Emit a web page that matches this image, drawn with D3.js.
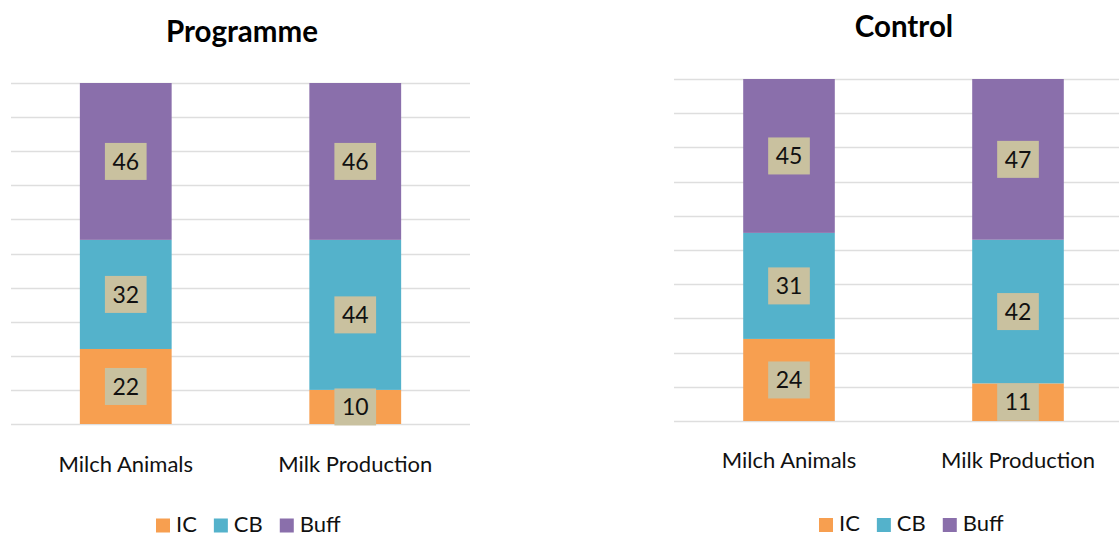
<!DOCTYPE html>
<html>
<head>
<meta charset="utf-8">
<script src="https://cdn.jsdelivr.net/npm/d3@7"></script>
<style>
  body { margin: 0; background: #ffffff; }
  svg { display: block; }
</style>
</head>
<body>
<svg id="chart" width="1119" height="536"></svg>
<script>
// ---- data ----
const categories = ["Milch Animals", "Milk Production"];
const seriesNames = ["IC", "CB", "Buff"];
const panelTitles = ["Programme", "Control"];

const programmeIC = [22, 10];
const programmeCB = [32, 44];
const programmeBuff = [46, 46];

const controlIC = [24, 11];
const controlCB = [31, 42];
const controlBuff = [45, 47];

const gridTicks = [0, 10, 20, 30, 40, 50, 60, 70, 80, 90, 100];

// ---- styling ----
const seriesColors = ["#F79F50", "#54B2CB", "#8A6FAB"];
const labelFill = "#C9C19F";
const gridColor = "#DEDEDE";
const textColor = "#111111";
const fontFamily = "Lato, 'Open Sans', sans-serif";

// ---- panel layouts ----
const panels = [
  {
    title: panelTitles[0],
    series: [programmeIC, programmeCB, programmeBuff],
    xRange: [11, 470], gridRange: [11, 470],
    yRange: [424, 83],
    titleX: 242, titleY: 41.5,
    catY: 471.5,
    legendX: 156, legendY: 517.5
  },
  {
    title: panelTitles[1],
    series: [controlIC, controlCB, controlBuff],
    xRange: [674.5, 1132.5], gridRange: [674, 1140],
    yRange: [421, 79],
    titleX: 904, titleY: 36.5,
    catY: 467.5,
    legendX: 819, legendY: 517
  }
];

const svg = d3.select("#chart");

panels.forEach(p => {
  const g = svg.append("g");

  const rows = categories.map((c, i) => {
    const r = { category: c };
    seriesNames.forEach((s, k) => { r[s] = p.series[k][i]; });
    return r;
  });
  const stacked = d3.stack().keys(seriesNames)(rows);

  const x = d3.scaleBand()
    .domain(categories)
    .range(p.xRange)
    .paddingInner(0.6)
    .paddingOuter(0.3);
  const y = d3.scaleLinear().domain([0, 100]).range(p.yRange);

  // horizontal gridlines
  g.append("g").selectAll("line")
    .data(gridTicks)
    .join("line")
    .attr("x1", p.gridRange[0]).attr("x2", p.gridRange[1])
    .attr("y1", d => Math.round(y(d)) + 0.5)
    .attr("y2", d => Math.round(y(d)) + 0.5)
    .attr("stroke", gridColor)
    .attr("stroke-width", 1.3);

  // stacked bars
  const layers = g.append("g").selectAll("g")
    .data(stacked)
    .join("g")
    .attr("fill", (d, i) => seriesColors[i]);

  layers.selectAll("rect")
    .data(d => d)
    .join("rect")
    .attr("x", d => x(d.data.category))
    .attr("width", x.bandwidth())
    .attr("y", d => y(d[1]))
    .attr("height", d => y(d[0]) - y(d[1]));

  // value labels on tan boxes
  const labelLayer = g.append("g");
  stacked.forEach(layer => {
    layer.forEach(d => {
      const cx = x(d.data.category) + x.bandwidth() / 2;
      const cy = (y(d[0]) + y(d[1])) / 2;
      const val = d[1] - d[0];
      const lg = labelLayer.append("g");
      const rect = lg.append("rect").attr("fill", labelFill);
      const t = lg.append("text")
        .attr("x", cx).attr("y", cy)
        .attr("dy", "0.36em")
        .attr("text-anchor", "middle")
        .attr("font-family", fontFamily)
        .attr("font-size", 23)
        .attr("fill", textColor)
        .text(val);
      const w = t.node().getComputedTextLength() + 15;
      const h = 37;
      rect.attr("x", cx - w / 2).attr("y", cy - h / 2)
        .attr("width", w).attr("height", h);
    });
  });

  // category labels
  g.append("g").selectAll("text")
    .data(categories)
    .join("text")
    .attr("x", d => x(d) + x.bandwidth() / 2)
    .attr("y", p.catY)
    .attr("text-anchor", "middle")
    .attr("font-family", fontFamily)
    .attr("font-size", 22)
    .attr("fill", textColor)
    .text(d => d);

  // title
  g.append("text")
    .attr("x", p.titleX).attr("y", p.titleY)
    .attr("text-anchor", "middle")
    .attr("font-family", fontFamily)
    .attr("font-weight", "bold")
    .attr("font-size", 29.5)
    .attr("fill", "#000")
    .text(p.title);

  // legend
  const legend = g.append("g");
  let lx = p.legendX;
  seriesNames.forEach((s, i) => {
    legend.append("rect")
      .attr("x", lx).attr("y", p.legendY + 1)
      .attr("width", 14).attr("height", 14)
      .attr("fill", seriesColors[i]);
    const t = legend.append("text")
      .attr("x", lx + 20).attr("y", p.legendY + 14)
      .attr("font-family", fontFamily)
      .attr("font-size", 22)
      .attr("fill", textColor)
      .text(s);
    lx += 20 + t.node().getComputedTextLength() + 17;
  });
});
</script>
</body>
</html>
